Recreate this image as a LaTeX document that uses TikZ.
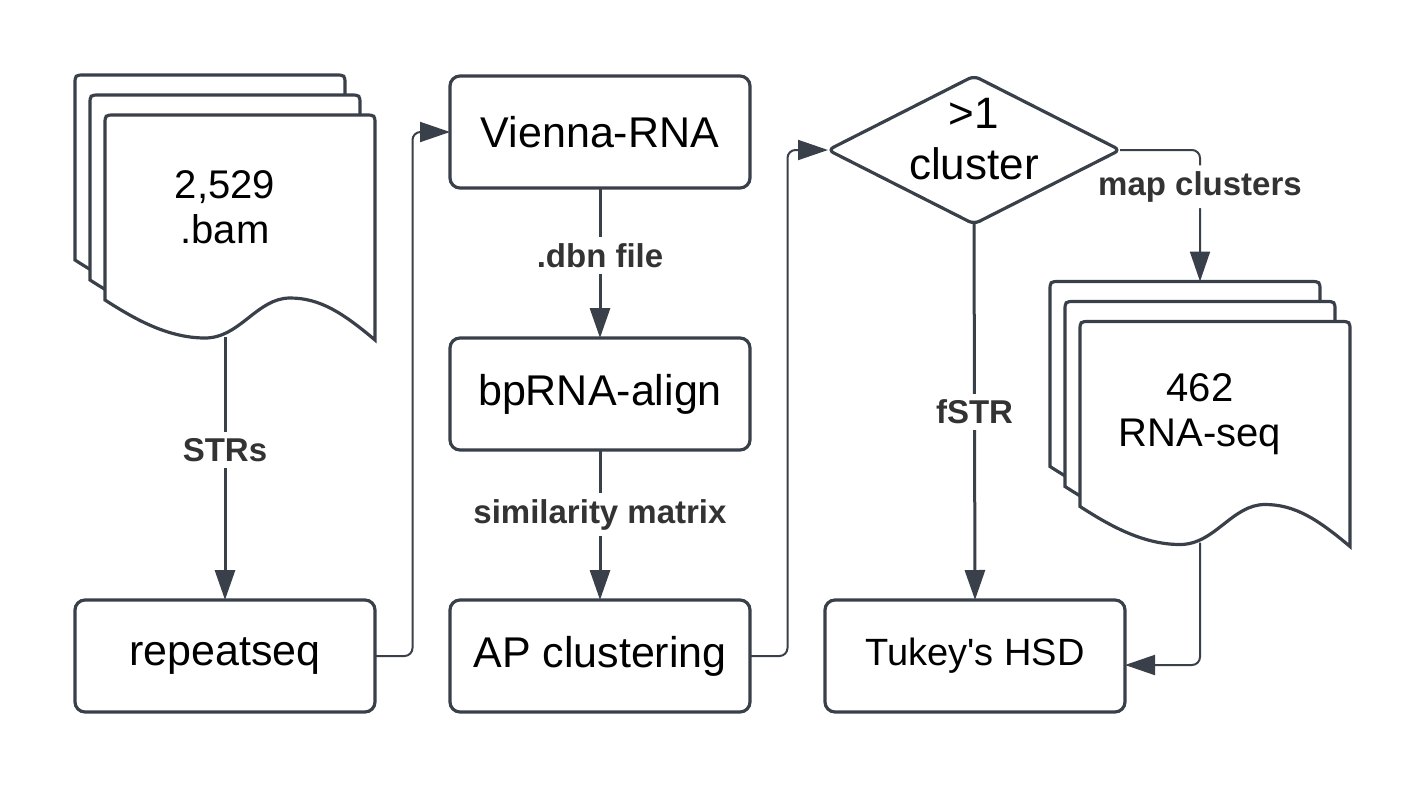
\documentclass[tikz,border=0pt]{standalone}
\usepackage{fontspec}
\setmainfont{Liberation Sans}
\usepackage{xcolor}
\usetikzlibrary{positioning}
\usetikzlibrary{shapes.geometric, arrows.meta}

\definecolor{slate}{HTML}{3A4049}
\definecolor{lbltext}{HTML}{333333}

% three stacked pages behind a stack node
\newcommand{\docstack}[1]{%
  \foreach \dx/\dy in {0/0,15/20,30/40}
    \draw[page, shift={(#1.north west)}, xshift=\dx*0.5pt, yshift=-\dy*0.5pt]
      (0,185) -- (0,10) .. controls (0,0) .. (10,0) -- (260,0) .. controls (270,0) .. (270,10)
      -- (270,225) .. controls (238,198) and (215,183) .. (185,183)
      .. controls (152,183) and (135,223) .. (100,223)
      .. controls (62,223) and (28,203) .. (0,185) -- cycle;}

\begin{document}
\begin{tikzpicture}[x=0.5pt, y=-0.5pt,
    >={Triangle[length=15pt, width=10pt]},
    procbox/.style = {draw=slate, line width=1.6pt, rounded corners=5pt, fill=white, outer sep=0pt,
      minimum width=150pt, minimum height=56pt, font=\fontsize{21.5}{26}\selectfont},
    decision/.style = {diamond, draw=slate, line width=1.6pt, rounded corners=3pt, outer sep=0pt,
      minimum width=146pt, minimum height=74pt, inner sep=0pt},
    stack/.style = {minimum width=150pt, minimum height=132.5pt, inner sep=0pt, outer sep=0pt},
    page/.style = {draw=slate, line width=1.6pt, fill=white},
    doctext/.style = {align=center, font=\fontsize{20}{22.5}\selectfont},
    lbl/.style = {fill=white, text=lbltext, inner sep=3pt, font=\fontsize{16.5}{20}\selectfont\bfseries},
    flow/.style = {draw=slate, line width=1.5pt, ->},
    elbow/.style = {flow, line width=1pt, rounded corners=4pt}
  ]
  \useasboundingbox (0,0) rectangle (1425,788);

  % processing column
  \node[procbox] (apclust) at (600,656) {AP clustering};
  \node[procbox] (bprna) [above=75pt of apclust] {bpRNA-align};
  \node[procbox] (vienna) [above=75pt of bprna] {Vienna-RNA};
  \node[procbox] (repeatseq) [left=37.5pt of apclust] {repeatseq};
  \node[procbox, font=\fontsize{19}{23}\selectfont] (tukey) [right=37.5pt of apclust] {Tukey\textquotesingle s HSD};
  \node[decision, label={[name=clustertext, align=center, yshift=5.5pt,
      font=\fontsize{22}{25.5}\selectfont]center:{>1\\cluster}}] (cluster) at (974,150) {};

  % input files
  \node[stack] (bam) at (225,207.5) {};
  \docstack{bam}
  \node[doctext] (bamtext) at (bam.center) {2,529\\.bam};
  \node[stack] (rnaseq) at (1200,414) {};
  \docstack{rnaseq}
  \node[doctext] (rnatext) at (rnaseq.center) {462\\RNA-seq};

  \draw[flow] ([yshift=1.5pt]bam.south) -- node[lbl, pos=0.43] (lblstrs) {STRs} (repeatseq.north);
  \draw[elbow] (repeatseq.east) -- ++(37.5,0) |- (vienna.west);
  \draw[flow] (vienna.south) -- node[lbl, pos=0.45] (lbldbn) {.dbn file} (bprna.north);
  \draw[flow] (bprna.south) -- node[lbl, pos=0.43] (lblsim) {similarity matrix} (apclust.north);
  \draw[elbow] (apclust.east) -- ++(37.5,0) |- (cluster.west);
  \draw[flow] (cluster.south) -- node[lbl] (lblfstr) {fSTR} (tukey.north);
  \draw[elbow] (cluster.east) -| node[lbl, pos=0.64] (lblmap) {map clusters} (rnaseq.north);
  \draw[elbow] ([yshift=2pt]rnaseq.south) |- ([yshift=-4.5pt]tukey.east);
\end{tikzpicture}
\end{document}
